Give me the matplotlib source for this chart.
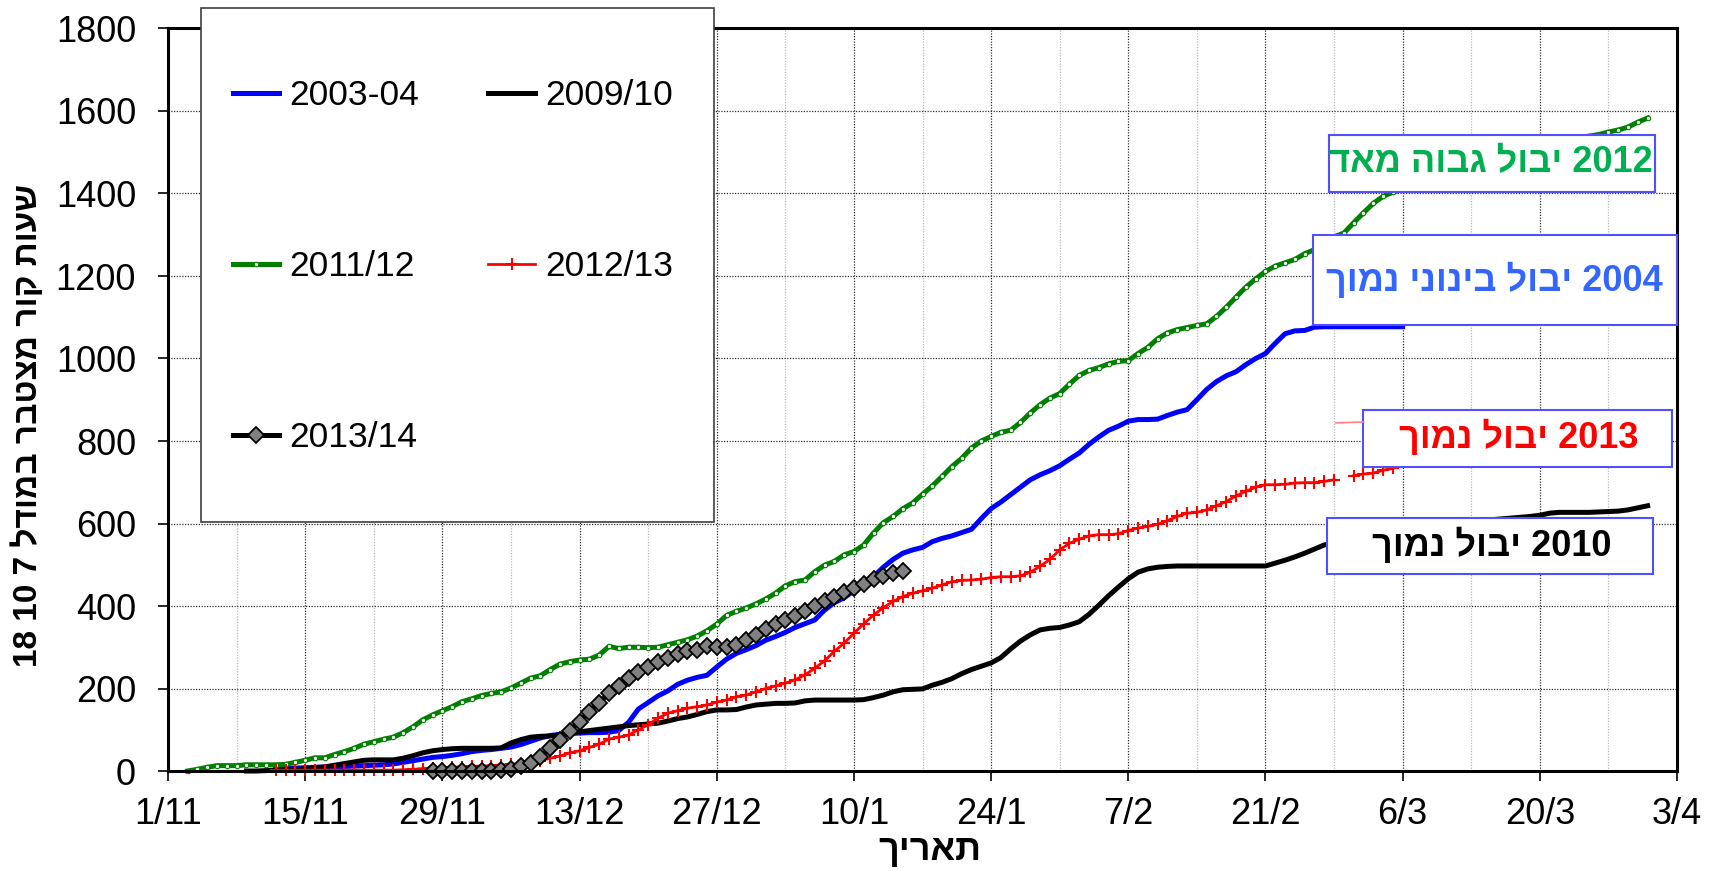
import numpy as np
import matplotlib
matplotlib.use("Agg")
import matplotlib.pyplot as plt
from matplotlib.patches import Rectangle

plt.rcParams['font.family'] = ['Liberation Sans', 'DejaVu Sans']

# x = days counted from 1/11 (season 2003/04, Feb has 29 days)
tick_days = [0, 14, 28, 42, 56, 70, 84, 98, 112, 126, 140, 154]
tick_labels = ["1/11", "15/11", "29/11", "13/12", "27/12", "10/1", "24/1",
               "7/2", "21/2", "6/3", "20/3", "3/4"]
y_ticks = [0, 200, 400, 600, 800, 1000, 1200, 1400, 1600, 1800]

# 2003-04 (blue), daily from day 11
blue_start = 11
blue_vals = [5, 6, 7, 8, 9, 10, 10, 11, 12, 13, 14, 15, 17, 21, 25, 29, 33, 35, 38, 42,
             47, 50, 52, 55, 58, 64, 72, 80, 86, 89, 91, 92, 93, 93, 94, 98, 118, 150, 166, 182,
             194, 210, 220, 227, 232, 252, 271, 285, 294, 304, 317, 326, 336, 348, 357, 366, 390, 408, 420, 437,
             454, 471, 494, 513, 528, 536, 542, 556, 564, 570, 578, 586, 612, 636, 652, 670, 688, 706, 718, 728,
             740, 756, 771, 792, 810, 826, 836, 848, 852, 852, 853, 862, 870, 876, 900, 925, 944, 958, 968, 985,
             1000, 1012, 1037, 1060, 1067, 1068, 1076, 1077, 1077, 1077, 1077, 1077, 1077, 1077, 1077, 1077]

# 2009/10 (black), daily from day 8
black_start = 8
black_vals = [0, 0, 1, 2, 3, 4, 5, 7, 10, 14, 18, 22, 26, 27, 27, 27, 31, 37, 44, 49,
              52, 54, 55, 55, 55, 55, 56, 68, 76, 82, 84, 85, 87, 90, 95, 98, 101, 104, 107, 110,
              112, 114, 116, 121, 127, 131, 137, 144, 148, 148, 149, 155, 160, 162, 164, 164, 165, 170, 172, 172,
              172, 172, 172, 173, 178, 184, 192, 197, 198, 199, 208, 215, 224, 236, 246, 254, 262, 275, 296, 315,
              330, 342, 346, 348, 354, 362, 380, 402, 425, 446, 466, 482, 490, 494, 496, 497, 497, 497, 497, 497,
              497, 497, 497, 497, 497, 504, 511, 519, 528, 538, 548, 553, 558, 562, 566, 570, 574, 578, 582, 586,
              590, 593, 596, 599, 602, 605, 607, 609, 611, 613, 615, 617, 620, 625, 627, 627, 627, 627, 628, 629,
              630, 633, 638, 643]

# 2011/12 (green), daily from day 2
green_start = 2
green_vals = [0, 4, 9, 13, 13, 13, 15, 15, 15, 15, 16, 21, 26, 32, 32, 40, 47, 55, 65, 71,
              77, 82, 93, 107, 124, 136, 146, 156, 168, 175, 183, 188, 192, 201, 213, 225, 231, 246, 259, 265,
              269, 271, 281, 302, 297, 300, 300, 299, 300, 306, 312, 318, 327, 340, 356, 377, 387, 395, 405, 417,
              431, 449, 459, 463, 483, 499, 508, 524, 532, 548, 577, 602, 617, 636, 650, 671, 691, 714, 738, 758,
              783, 800, 811, 821, 826, 845, 868, 888, 904, 915, 938, 959, 971, 978, 987, 993, 995, 1012, 1027, 1048,
              1062, 1070, 1075, 1080, 1084, 1102, 1124, 1149, 1173, 1193, 1211, 1224, 1232, 1240, 1254, 1264, 1280, 1295, 1304, 1329,
              1353, 1376, 1393, 1403, 1410, 1418, 1425, 1432, 1440, 1447, 1455, 1462, 1470, 1477, 1485, 1492, 1500, 1507, 1513, 1519,
              1525, 1530, 1535, 1539, 1543, 1549, 1554, 1561, 1573, 1583]

# 2012/13 (red), daily from day 11, one missing day
red_start = 11
red_vals = [2, 2, 2, 2, 2, 2, 2, 2, 2, 2, 2, 2, 2, 3, 4, 6, 7, 8, 9, 10,
            11, 12, 13, 14, 16, 18, 21, 25, 31, 36, 44, 49, 57, 65, 77, 82, 87, 100, 112, 128,
            140, 146, 152, 156, 160, 167, 172, 180, 184, 192, 200, 206, 213, 221, 233, 249, 267, 290, 310, 334,
            357, 378, 396, 411, 423, 431, 437, 443, 451, 459, 462, 463, 465, 469, 471, 471, 473, 482, 496, 513,
            536, 552, 562, 570, 573, 573, 575, 583, 589, 593, 598, 607, 617, 625, 627, 633, 643, 653, 667, 678,
            688, 694, 694, 695, 698, 699, 699, 702, 706, np.nan, 716, 720, 722, 729, 734]

# 2013/14 (grey diamonds), daily from day 27
cur_start = 27
cur_vals = [0, 0, 0, 0, 0, 0, 0, 2, 6, 11, 19, 35, 55, 75, 98, 120, 144, 166, 188, 206,
            225, 239, 251, 265, 273, 284, 290, 294, 302, 300, 300, 306, 318, 330, 344, 357, 365, 375, 387, 399,
            411, 423, 435, 443, 454, 466, 473, 480, 484]


def visual(s):
    # matplotlib has no bidi: put the hebrew words in display order
    out = []
    for w in reversed(s.split(" ")):
        out.append(w if w[0].isdigit() else w[::-1])
    return " ".join(out)


def days(start, vals):
    return start + np.arange(len(vals))


fig = plt.figure(figsize=(17.19, 8.71), dpi=100)
W, H = 1719.0, 871.0
ax = fig.add_axes([168 / W, 1 - 771 / H, (1677 - 168) / W, (771 - 28.5) / H])

l_blue, = ax.plot(days(blue_start, blue_vals), blue_vals, color='#0000ff', lw=3.6,
                  label='2003-04', clip_on=False, zorder=3)
l_black, = ax.plot(days(black_start, black_vals), black_vals, color='black', lw=3.6,
                   label='2009/10', clip_on=False, zorder=3)
l_green, = ax.plot(days(green_start, green_vals), green_vals, color='#008000', lw=3.6,
                   marker='o', ms=3.2, mfc='white', mec='#008000', mew=0.8,
                   label='2011/12', clip_on=False, zorder=3)
l_red, = ax.plot(days(red_start, red_vals), red_vals, color='#ff0000', lw=2.0,
                 marker='+', ms=8, mew=1.5, label='2012/13', clip_on=False, zorder=3)
l_cur, = ax.plot(days(cur_start, cur_vals), cur_vals, color='black', lw=3.6,
                 marker='D', ms=8.6, mfc='#808080', mec='black', mew=1.3,
                 label='2013/14', clip_on=False, zorder=3)

ax.set_xlim(0, 154)
ax.set_ylim(0, 1800)
ax.set_xticks(tick_days)
ax.set_xticklabels(tick_labels)
ax.set_xticks(np.arange(7, 154, 14), minor=True)
ax.set_yticks(y_ticks)
ax.tick_params(axis='both', which='major', labelsize=26, direction='out',
               length=7, width=1.2, pad=12)
ax.tick_params(axis='y', pad=16)
ax.tick_params(which='minor', length=0)
ax.grid(which='major', color='#303030', ls=(0, (1, 1.2)), lw=0.9)
ax.grid(which='minor', axis='x', color='#b8b8b8', ls=(0, (1, 1.2)), lw=0.9)
ax.set_axisbelow(True)
for sp in ax.spines.values():
    sp.set_linewidth(2.2)
    sp.set_zorder(4)

# annotation boxes (data coords)
boxes = [
    ((118.5, 1404), (151.8, 1543), "2012 יבול גבוה מאד", '#00b050', (135.0, 1474)),
    ((116.9, 1080), (154.0, 1300), "2004 יבול בינוני נמוך", '#3366ff', (135.4, 1189)),
    ((122.0, 737.5), (153.5, 875.8), "2013 יבול נמוך", '#ff0000', (137.8, 807)),
    ((118.3, 478), (151.5, 613.8), "2010 יבול נמוך", 'black', (135.1, 546)),
]
for (x0, y0), (x1, y1), txt, col, (tx, ty) in boxes:
    ax.add_patch(Rectangle((x0, y0), x1 - x0, y1 - y0, facecolor='white',
                           edgecolor='#5050ff', lw=1.5, clip_on=False, zorder=6))
    ax.text(tx, ty, visual(txt), color=col, fontsize=26, fontweight='bold',
            ha='center', va='center', zorder=7, clip_on=False)
ax.plot([119.2, 122.0], [844, 846], color='#ff8080', lw=1.2, zorder=6, clip_on=False)

# legend frame + entries
fig.patches.append(Rectangle((201 / W, 1 - 522 / H), (714 - 201) / W, (522 - 8) / H,
                             transform=fig.transFigure, facecolor='white',
                             edgecolor='#404040', lw=1.2, zorder=5))
fig.legend(handles=[l_blue, l_green, l_cur, l_black, l_red], ncol=2, frameon=False,
           loc='upper left', bbox_to_anchor=(233 / W, 1 - 79 / H), borderaxespad=0,
           borderpad=0, fontsize=25.5, handlelength=1.3, handletextpad=0.3,
           labelspacing=3.9, columnspacing=1.95)

fig.text(28 / W, 1 - 425 / H, visual("שעות קור מצטבר במודל 7 10 18"), rotation=90,
         fontsize=24, fontweight='bold', ha='center', va='center')
fig.text(930 / W, 1 - 850 / H, visual("תאריך"), fontsize=26, fontweight='bold',
         ha='center', va='center')

fig.savefig("out.png", dpi=100)
